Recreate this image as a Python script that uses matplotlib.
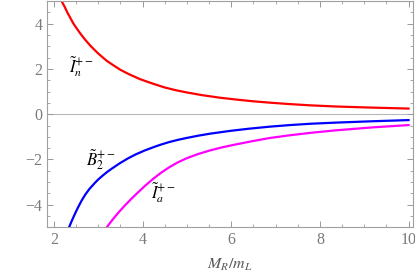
import numpy as np
import matplotlib
matplotlib.use("Agg")
import matplotlib.pyplot as plt
from matplotlib.ticker import MultipleLocator

plt.rcParams['font.family'] = ['Liberation Serif', 'DejaVu Serif']
plt.rcParams['mathtext.fontset'] = 'stix'

# values
x_n = [2.17, 2.24, 2.3, 2.37, 2.44, 2.52, 2.6, 2.7, 2.81, 2.9, 3.0, 3.1, 3.19, 3.35, 3.5, 3.7,
       3.94, 4.2, 4.5, 4.75, 5.0, 5.35, 5.74, 6.1, 6.5, 6.87, 7.3, 7.8, 8.37, 9.2, 10.0]
I_n = [5.0, 4.75, 4.5, 4.25, 4.0, 3.77, 3.55, 3.3, 3.05, 2.87, 2.68, 2.51, 2.36, 2.15, 1.96, 1.76,
       1.55, 1.37, 1.18, 1.06, 0.96, 0.84, 0.73, 0.65, 0.57, 0.51, 0.45, 0.39, 0.34, 0.29, 0.25]

x_b = [2.34, 2.4, 2.45, 2.5, 2.55, 2.62, 2.7, 2.8, 2.92, 3.0, 3.1, 3.2, 3.3, 3.49, 3.68, 3.85,
       4.05, 4.24, 4.4, 4.6, 4.8, 4.99, 5.25, 5.52, 6.0, 6.4, 6.87, 7.32, 7.8, 8.37, 9.2, 10.0]
B_2 = [-5.0, -4.72, -4.5, -4.29, -4.09, -3.83, -3.57, -3.3, -3.04, -2.88, -2.71, -2.55, -2.41, -2.16, -1.94, -1.77,
       -1.6, -1.46, -1.35, -1.23, -1.13, -1.05, -0.95, -0.86, -0.73, -0.64, -0.55, -0.48, -0.42, -0.37, -0.31, -0.26]

x_a = [3.19, 3.27, 3.35, 3.47, 3.6, 3.73, 3.86, 4.05, 4.24, 4.42, 4.62, 4.8, 5.0, 5.25, 5.52, 5.78,
       6.04, 6.45, 6.87, 7.32, 7.8, 8.37, 9.2, 10.0]
I_a = [-5.0, -4.79, -4.59, -4.31, -4.03, -3.77, -3.52, -3.17, -2.85, -2.58, -2.32, -2.12, -1.94, -1.76, -1.6, -1.47,
       -1.36, -1.2, -1.05, -0.93, -0.82, -0.71, -0.58, -0.48]

fig = plt.figure(figsize=(4.15, 2.75), dpi=100)
ax = fig.add_axes([0.114, 0.173, 0.880, 0.825])

ax.axhline(0, color='#b8b8b8', lw=0.8, zorder=1)
ax.plot(x_n, I_n, color='#ff0000', lw=1.6, solid_joinstyle='round')
ax.plot(x_b, B_2, color='#0000ff', lw=1.6, solid_joinstyle='round')
ax.plot(x_a, I_a, color='#ff00ff', lw=1.6, solid_joinstyle='round')

ax.text(2.61, 2.1, r'$\tilde{I}_n^{+-}$', fontsize=12, ha='center', va='center')
ax.text(3.06, -2.0, r'$\tilde{B}_2^{+-}$', fontsize=12, ha='center', va='center')
ax.text(4.48, -3.45, r'$\tilde{I}_a^{+-}$', fontsize=12, ha='center', va='center')

ax.set_xlim(1.85, 10.09)
ax.set_ylim(-5.0, 5.02)
ax.xaxis.set_major_locator(MultipleLocator(2))
ax.xaxis.set_minor_locator(MultipleLocator(0.5))
ax.yaxis.set_major_locator(MultipleLocator(2))
ax.yaxis.set_minor_locator(MultipleLocator(0.5))
ax.tick_params(which='both', direction='in', top=True, right=True, color='#999999',
               labelcolor='#7a7a7a', labelsize=11.5)
ax.tick_params(which='major', length=4, width=0.7)
ax.tick_params(which='minor', length=2.2, width=0.6)
ax.set_yticks([-4, -2, 0, 2, 4])
ax.set_yticklabels(['\u22124', '\u22122', '0', '2', '4'])
for s in ax.spines.values():
    s.set_color('#a0a0a0')
    s.set_linewidth(0.8)

ax.set_xlabel(r'$M_R/m_L$', fontsize=11.5, color='#555555', labelpad=6)

fig.savefig('out.png', dpi=100)
